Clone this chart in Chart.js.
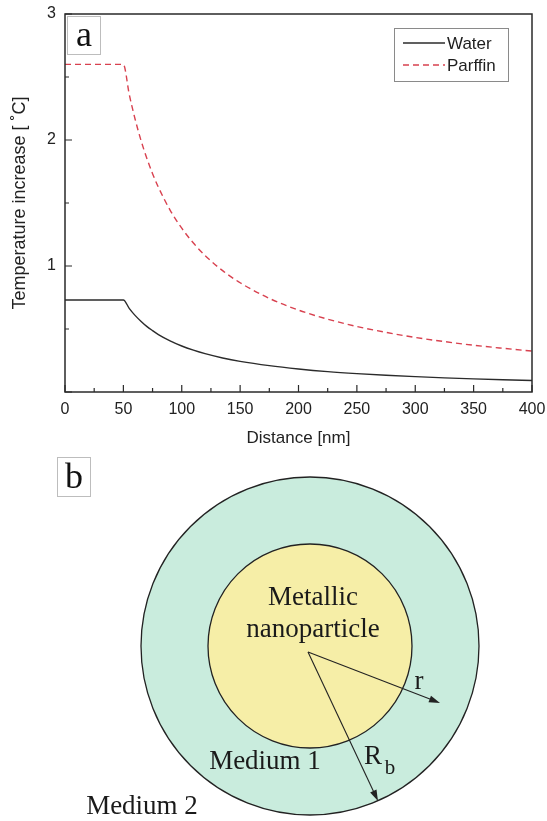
<!DOCTYPE html>
<html lang="en">
<head>
  <meta charset="UTF-8">
  <title>Temperature increase vs distance</title>
  <script src="https://cdn.jsdelivr.net/npm/chart.js"></script>
  <style>
    html, body { margin: 0; padding: 0; background: #fff; }
    #chart { display: block; }
  </style>
</head>
<body>
  <canvas id="chart" width="547" height="821"></canvas>

  <script>
    // values
    const distance = [0, 50, 55, 60, 65, 70, 75, 80, 90, 100, 110, 120, 135, 150, 175, 200, 225, 250, 275, 300, 325, 350, 375, 400];
    const water    = [0.73, 0.73, 0.664, 0.608, 0.562, 0.521, 0.487, 0.456, 0.406, 0.365, 0.332, 0.304, 0.270, 0.243, 0.209, 0.183, 0.162, 0.146, 0.133, 0.122, 0.112, 0.104, 0.097, 0.091];
    const paraffin = [2.6, 2.6, 2.364, 2.167, 2.0, 1.857, 1.733, 1.625, 1.444, 1.3, 1.182, 1.083, 0.963, 0.867, 0.743, 0.65, 0.578, 0.52, 0.473, 0.433, 0.4, 0.371, 0.347, 0.325];
    const seriesNames = ['Water', 'Parffin'];
    const xTickLabels = [0, 50, 100, 150, 200, 250, 300, 350, 400];
    const yTickLabels = [1, 2, 3];

    const sans = "'Liberation Sans', Arial, sans-serif";
    const serif = "'Liberation Serif', 'Times New Roman', serif";

    const toPoints = ys => distance.map((d, i) => ({ x: d, y: ys[i] }));

    // frame + inward ticks
    const frameTicks = {
      id: 'frameTicks',
      afterDatasetsDraw(chart) {
        const { ctx, chartArea: a, scales: { x, y } } = chart;
        ctx.save();
        ctx.strokeStyle = '#2a2a2a';
        ctx.lineWidth = 1.5;
        ctx.strokeRect(a.left, a.top, a.right - a.left, a.bottom - a.top);
        ctx.lineWidth = 1.2;
        ctx.beginPath();
        for (let v = 0; v <= 400; v += 25) {
          const px = x.getPixelForValue(v);
          const len = xTickLabels.includes(v) ? 7 : 4;
          ctx.moveTo(px, a.bottom);
          ctx.lineTo(px, a.bottom - len);
        }
        for (let v = 0; v <= 3; v += 0.5) {
          const py = y.getPixelForValue(v);
          const len = Number.isInteger(v) ? 7 : 4;
          ctx.moveTo(a.left, py);
          ctx.lineTo(a.left + len, py);
        }
        ctx.stroke();
        ctx.restore();
      }
    };

    // legend box inside the plot + panel letter
    const insideLegend = {
      id: 'insideLegend',
      afterDraw(chart) {
        const ctx = chart.ctx;
        ctx.save();
        ctx.strokeStyle = '#8a8a8a';
        ctx.lineWidth = 1;
        ctx.strokeRect(394.5, 28.5, 114, 53);
        const rows = [43, 65];
        chart.data.datasets.forEach((ds, i) => {
          ctx.strokeStyle = ds.borderColor;
          ctx.lineWidth = 1.3;
          ctx.setLineDash(ds.borderDash || []);
          ctx.beginPath();
          ctx.moveTo(403, rows[i]);
          ctx.lineTo(445, rows[i]);
          ctx.stroke();
          ctx.setLineDash([]);
          ctx.fillStyle = '#1e1e1e';
          ctx.font = '17px ' + sans;
          ctx.textBaseline = 'middle';
          ctx.textAlign = 'left';
          ctx.fillText(ds.label, 447, rows[i] + 1);
        });

        // "a" label
        ctx.strokeStyle = '#bdbdbd';
        ctx.lineWidth = 1;
        ctx.strokeRect(67.5, 16.5, 33, 38);
        ctx.fillStyle = '#111';
        ctx.font = '36px ' + serif;
        ctx.textAlign = 'center';
        ctx.textBaseline = 'alphabetic';
        ctx.fillText('a', 84, 46);
        ctx.restore();
      }
    };

    // panel b: schematic of the particle and surrounding media
    function arrow(ctx, x0, y0, x1, y1) {
      const ang = Math.atan2(y1 - y0, x1 - x0);
      ctx.beginPath();
      ctx.moveTo(x0, y0);
      ctx.lineTo(x1 - 6 * Math.cos(ang), y1 - 6 * Math.sin(ang));
      ctx.stroke();
      ctx.beginPath();
      ctx.moveTo(x1, y1);
      ctx.lineTo(x1 - 11 * Math.cos(ang) + 3.5 * Math.sin(ang), y1 - 11 * Math.sin(ang) - 3.5 * Math.cos(ang));
      ctx.lineTo(x1 - 11 * Math.cos(ang) - 3.5 * Math.sin(ang), y1 - 11 * Math.sin(ang) + 3.5 * Math.cos(ang));
      ctx.closePath();
      ctx.fill();
    }

    const diagram = {
      id: 'diagram',
      afterDraw(chart) {
        const ctx = chart.ctx;
        ctx.save();

        ctx.strokeStyle = '#bdbdbd';
        ctx.lineWidth = 1;
        ctx.strokeRect(57.5, 457.5, 33, 39);
        ctx.fillStyle = '#111';
        ctx.font = '36px ' + serif;
        ctx.textAlign = 'center';
        ctx.fillText('b', 74, 488);

        const cx = 310, cy = 646;
        ctx.strokeStyle = '#222';
        ctx.lineWidth = 1.3;
        ctx.fillStyle = '#c9ecdd';
        ctx.beginPath();
        ctx.arc(cx, cy, 169, 0, Math.PI * 2);
        ctx.fill();
        ctx.stroke();
        ctx.fillStyle = '#f6eea7';
        ctx.beginPath();
        ctx.arc(cx, cy, 102, 0, Math.PI * 2);
        ctx.fill();
        ctx.stroke();

        ctx.fillStyle = '#222';
        ctx.lineWidth = 1.1;
        arrow(ctx, 308, 652, 440, 703);
        arrow(ctx, 308, 652, 378, 801);

        ctx.fillStyle = '#1a1a1a';
        ctx.font = '27px ' + serif;
        ctx.textAlign = 'center';
        ctx.textBaseline = 'middle';
        ctx.fillText('Metallic', 313, 598);
        ctx.fillText('nanoparticle', 313, 630);
        ctx.fillText('Medium 1', 265, 762);
        ctx.fillText('Medium 2', 142, 807);
        ctx.fillText('r', 419, 682);
        ctx.fillText('R', 373, 757);
        ctx.font = '21px ' + serif;
        ctx.fillText('b', 390, 768);
        ctx.restore();
      }
    };

    new Chart(document.getElementById('chart'), {
      type: 'line',
      data: {
        datasets: [
          {
            label: seriesNames[0],
            data: toPoints(water),
            borderColor: '#2b2b2b',
            borderWidth: 1.4,
            pointRadius: 0,
            cubicInterpolationMode: 'monotone'
          },
          {
            label: seriesNames[1],
            data: toPoints(paraffin),
            borderColor: '#d8414f',
            borderDash: [6, 4],
            borderWidth: 1.4,
            pointRadius: 0,
            cubicInterpolationMode: 'monotone'
          }
        ]
      },
      options: {
        responsive: false,
        animation: false,
        layout: { padding: { left: 0, top: 14, right: 15, bottom: 0 } },
        plugins: {
          legend: { display: false },
          tooltip: { enabled: false }
        },
        scales: {
          x: {
            type: 'linear',
            min: 0,
            max: 400,
            grid: { display: false, drawTicks: false },
            border: { display: false },
            ticks: {
              stepSize: 25,
              autoSkip: false,
              maxRotation: 0,
              padding: 8,
              color: '#222',
              font: { family: sans, size: 16 },
              callback: v => xTickLabels.includes(v) ? v : ''
            },
            title: {
              display: true,
              text: 'Distance [nm]',
              color: '#222',
              font: { family: sans, size: 17 },
              padding: { top: 0, bottom: 372 }
            },
            afterFit: s => { s.height = 429; s.paddingLeft = 0; s.paddingRight = 0; }
          },
          y: {
            min: 0,
            max: 3,
            grid: { display: false, drawTicks: false },
            border: { display: false },
            ticks: {
              stepSize: 0.5,
              padding: 9,
              color: '#222',
              font: { family: sans, size: 16 },
              callback: v => yTickLabels.includes(v) ? v : ''
            },
            title: {
              display: true,
              text: 'Temperature increase [ ˚C]',
              color: '#222',
              font: { family: sans, size: 18 },
              padding: { top: 9, bottom: 0 }
            },
            afterFit: s => { s.width = 65; s.paddingTop = 0; s.paddingBottom = 0; }
          }
        }
      },
      plugins: [frameTicks, insideLegend, diagram]
    });
  </script>
</body>
</html>
